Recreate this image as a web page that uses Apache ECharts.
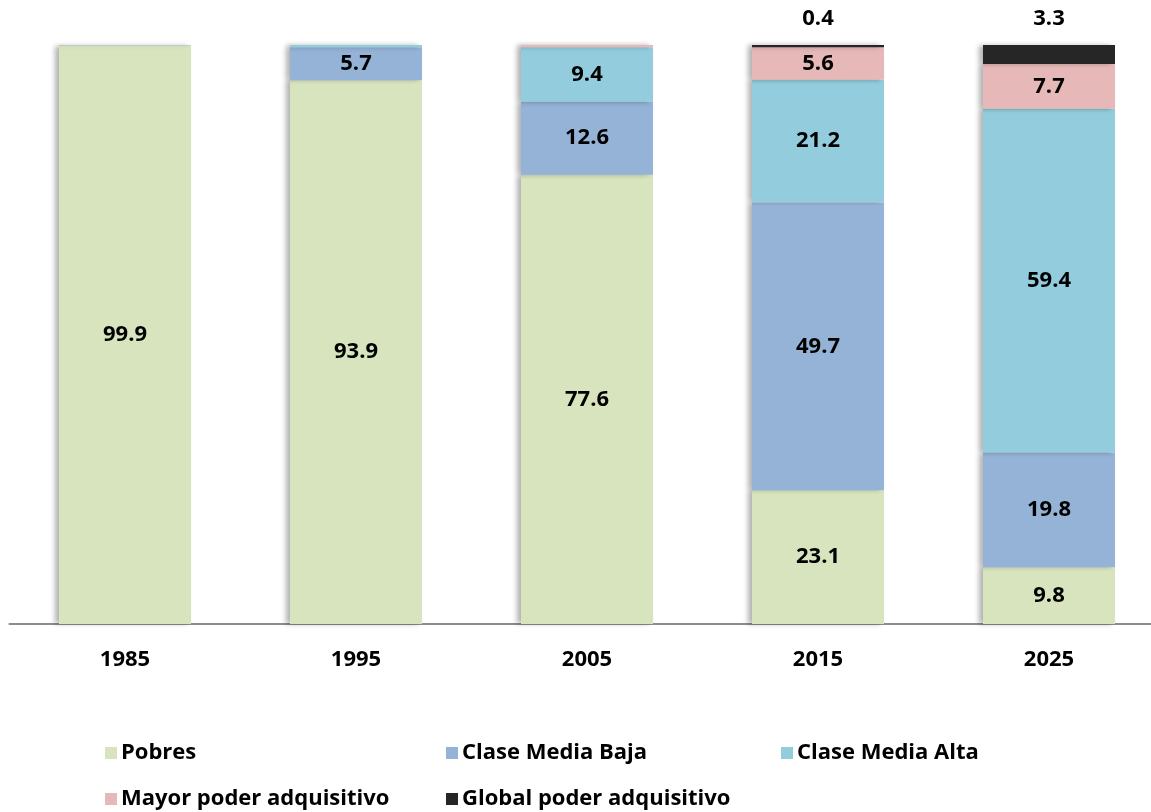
<!DOCTYPE html>
<html lang="es">
<head>
    <meta charset="UTF-8">
    <title>Clases por poder adquisitivo</title>
    <script src="https://cdn.jsdelivr.net/npm/echarts@6/dist/echarts.min.js"></script>
    <style>
        html, body { margin: 0; padding: 0; background: #fff; }
        #main { width: 1151px; height: 812px; }
    </style>
</head>
<body>
<div id="main"></div>
<script>
    // datos
    var years = ['1985', '1995', '2005', '2015', '2025'];
    var pobres = [99.9, 93.9, 77.6, 23.1, 9.8];
    var mediaBaja = [0.1, 5.7, 12.6, 49.7, 19.8];
    var mediaAlta = [0, 0.4, 9.4, 21.2, 59.4];
    var mayorPoder = [0, 0, 0.4, 5.6, 7.7];
    var globalPoder = [0, 0, 0, 0.4, 3.3];

    var names = ['Pobres', 'Clase Media Baja', 'Clase Media Alta', 'Mayor poder adquisitivo', 'Global poder adquisitivo'];
    var colors = ['#D7E4BD', '#95B3D7', '#93CDDD', '#E6B9B8', '#262626'];
    var font = '"Open Sans", "Noto Sans", sans-serif';

    function serie(i, data, pos) {
        return {
            name: names[i],
            type: 'bar',
            stack: 'total',
            barWidth: 132,
            data: data,
            itemStyle: {
                color: colors[i],
                shadowColor: 'rgba(0,0,0,0.3)',
                shadowBlur: 5,
                shadowOffsetX: -4
            },
            label: {
                show: true,
                position: pos,
                distance: 15,
                color: '#000',
                fontFamily: font,
                fontWeight: 'bold',
                fontSize: 22,
                formatter: function (p) {
                    if (pos === 'inside' && p.value < 1) return '';
                    if (!p.value) return '';
                    return p.value.toFixed(1);
                }
            }
        };
    }

    var myChart = echarts.init(document.getElementById('main'));

    function legendAt(i, left, top) {
        return {
            data: [names[i]],
            left: left,
            top: top,
            icon: 'rect',
            itemWidth: 12,
            itemHeight: 12,
            itemGap: 0,
            selectedMode: false,
            textStyle: { fontFamily: font, fontWeight: 'bold', fontSize: 22, color: '#000', padding: [0, 0, 0, -1] }
        };
    }

    var option = {
        animation: false,
        grid: { left: 9.5, width: 1155, top: 45, bottom: 188, outerBoundsMode: 'none', containLabel: false },
        legend: [
            legendAt(0, 100, 737),
            legendAt(1, 441, 737),
            legendAt(2, 776, 737),
            legendAt(3, 100, 783),
            legendAt(4, 441, 783)
        ],
        xAxis: {
            type: 'category',
            data: years,
            axisLine: { lineStyle: { color: '#8c8c8c', width: 2 } },
            axisTick: { show: false },
            axisLabel: { margin: 25, color: '#000', fontFamily: font, fontWeight: 'bold', fontSize: 22 }
        },
        yAxis: {
            type: 'value',
            min: 0,
            max: 100,
            show: false,
            splitLine: { show: false }
        },
        series: [
            serie(0, pobres, 'inside'),
            serie(1, mediaBaja, 'inside'),
            serie(2, mediaAlta, 'inside'),
            serie(3, mayorPoder, 'inside'),
            serie(4, globalPoder, 'top')
        ]
    };

    myChart.setOption(option);
</script>
</body>
</html>
